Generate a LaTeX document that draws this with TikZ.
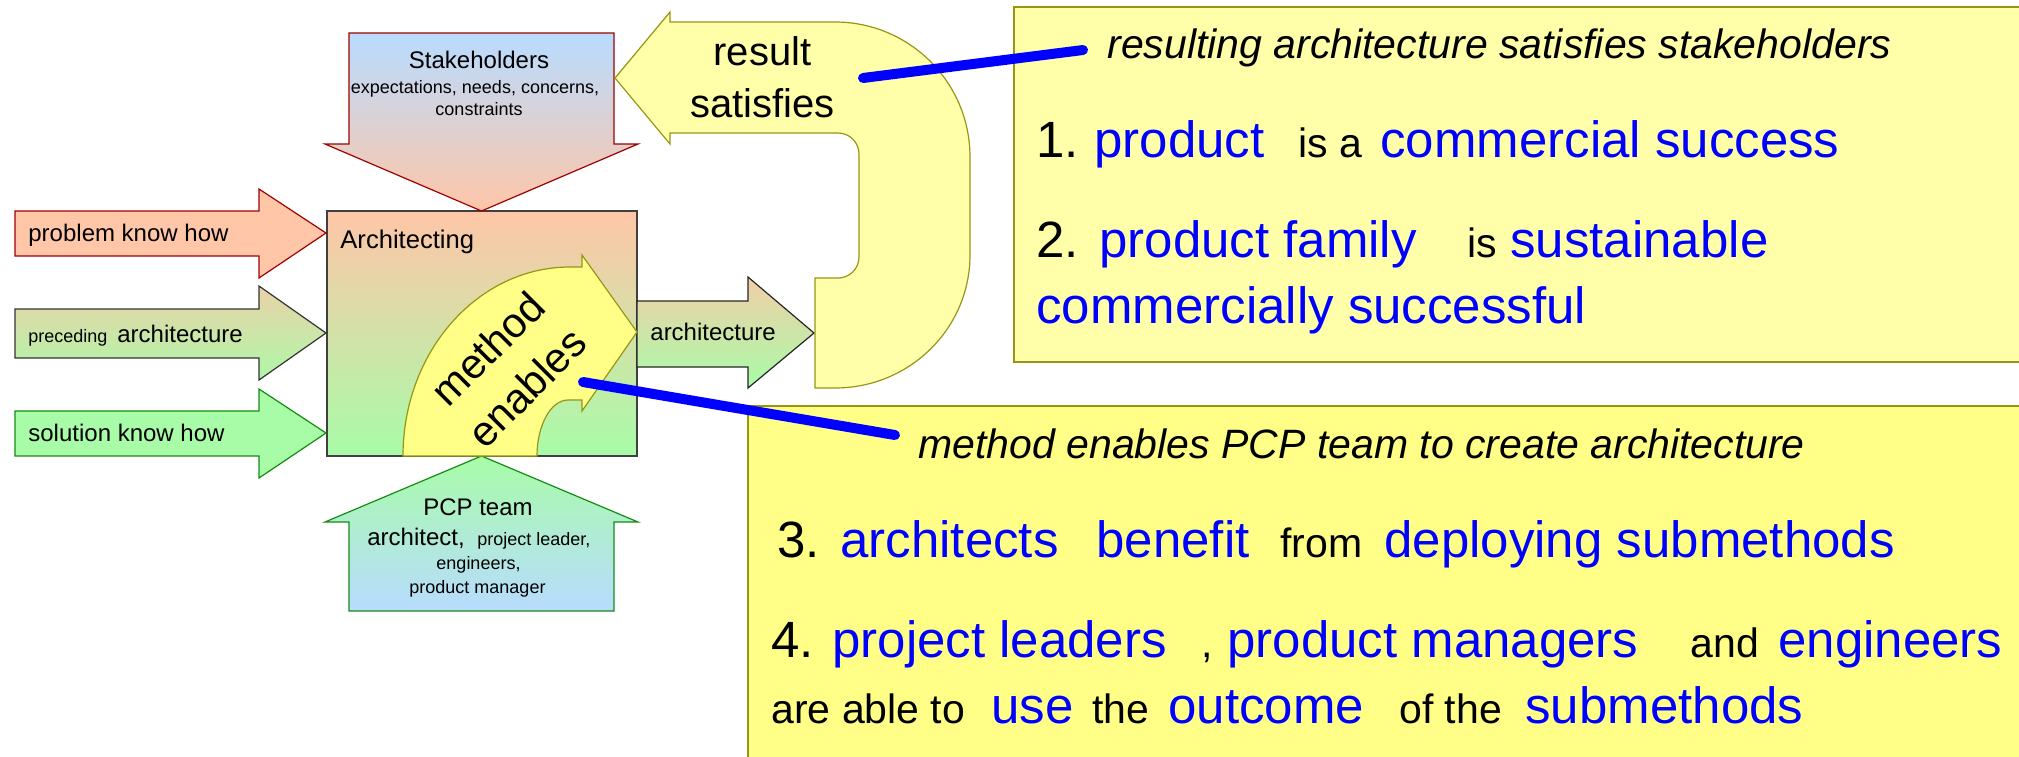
\documentclass[tikz,border=0pt]{standalone}
\usepackage{fontspec}
\setmainfont{Liberation Sans}
\definecolor{salmon}{RGB}{255,198,168}
\definecolor{lgreen}{RGB}{168,252,168}
\definecolor{lblue}{RGB}{184,220,255}
\definecolor{tan}{RGB}{234,210,168}
\definecolor{paley}{RGB}{255,255,170}
\definecolor{bright}{RGB}{255,255,136}
\definecolor{olive}{RGB}{150,150,20}
\definecolor{dred}{RGB}{160,0,0}
\definecolor{dgreen}{RGB}{20,140,20}
\definecolor{pblue}{RGB}{0,0,255}
\tikzset{
  shp/.style={line width=0.6pt, line join=miter},
  txt/.style={inner sep=0pt, anchor=base west},
  ctxt/.style={inner sep=0pt, anchor=base},
  big/.style={txt, font=\fontsize{25.5}{30}\selectfont},
  sm/.style={txt, font=\fontsize{20.5}{24}\selectfont},
  ital/.style={txt, font=\fontsize{20.5}{24}\selectfont\itshape},
  bl/.style={text=pblue},
  lab/.style={font=\fontsize{12}{14}\selectfont},
  tiny/.style={font=\fontsize{9}{11}\selectfont},
  bluelink/.style={draw=pblue, line width=5pt, line cap=round}
}
\begin{document}
\begin{tikzpicture}[x=0.5pt,y=-0.5pt]
\useasboundingbox (0,0) rectangle (2019,756);
% right boxes
\path[shp, draw=olive, fill=paley] (1014,7) rectangle (2030,362);
\path[shp, draw=olive, fill=bright] (748,406) rectangle (2030,770);
% architecting box
\path[shp, draw=black!75, top color=salmon, bottom color=lgreen] (327,211) rectangle (637,456);
% stakeholders arrow (down)
\path[shp, draw=dred, top color=lblue, bottom color=salmon]
  (349,33) -- (614,33) -- (614,144) -- (638,144) -- (481.5,211) -- (325,144) -- (349,144) -- cycle;
% PCP team arrow (up)
\path[shp, draw=dgreen, top color=lgreen, bottom color=lblue]
  (481.5,456) -- (638,522) -- (614,522) -- (614,611) -- (349,611) -- (349,522) -- (325,522) -- cycle;
% left arrows
\path[shp, draw=dred, fill=salmon]
  (15,211) -- (259,211) -- (259,189) -- (326,233) -- (259,278) -- (259,256) -- (15,256) -- cycle;
\path[shp, draw=black!80, top color=tan, bottom color=lgreen!90!tan]
  (15,309) -- (259,309) -- (259,286) -- (326,333) -- (259,380) -- (259,358) -- (15,358) -- cycle;
\path[shp, draw=dgreen, fill=lgreen]
  (15,411) -- (259,411) -- (259,389) -- (326,433) -- (259,478) -- (259,456) -- (15,456) -- cycle;
% architecture output arrow
\path[shp, draw=black!85, top color=salmon!85!lgreen, bottom color=lgreen]
  (637,301) -- (748,301) -- (748,277) -- (814,333) -- (748,388) -- (748,367) -- (637,367) -- cycle;
% result satisfies U-arrow
\path[shp, draw=olive, fill=paley]
  (615,78) -- (670,12) -- (670,22) -- (835,22)
  .. controls (909.6,22) and (970,82.4) .. (970,157)
  -- (970,255)
  .. controls (970,328.5) and (909.6,388) .. (835,388)
  -- (815,388) -- (815,278) -- (838,278)
  .. controls (849.6,278) and (859,268.6) .. (859,257)
  -- (859,154)
  .. controls (859,142.4) and (849.6,133) .. (838,133)
  -- (670,133) -- (670,144) -- cycle;
% method enables curved arrow
\path[shp, draw=olive, fill=bright]
  (403,456) .. controls (403,351.6) and (477.8,267) .. (570,267)
  -- (582,267) -- (582,255) -- (637,332) -- (582,411) -- (582,400) -- (568,400)
  .. controls (550.9,400) and (537,425.1) .. (537,456) -- cycle;
% texts of the left part
\node[txt, lab] (pkh) at (28,241) {problem know how};
\node[txt, tiny] (prec) at (28,342) {preceding};
\node[txt, lab] (parch) at (117,342) {architecture};
\node[txt, lab] (skh) at (28,441) {solution know how};
\node[txt, font=\fontsize{12.8}{15}\selectfont] (archg) at (340,248) {Architecting};
\node[txt, lab] (oarch) at (650,340) {architecture};
\node[ctxt, lab] (stk) at (479,68) {Stakeholders};
\node[ctxt, tiny] (stk2) at (475,93) {expectations, needs, concerns,};
\node[ctxt, tiny] (stk3) at (479,115) {constraints};
\node[ctxt, lab] (pcp) at (478,515) {PCP team};
\node[txt, lab] (pcp2) at (367,545) {architect,};
\node[txt, tiny] (pcp3) at (477,545) {project leader,};
\node[ctxt, tiny] (pcp4) at (478.5,569) {engineers,};
\node[ctxt, tiny] (pcp5) at (477.5,593) {product manager};
\node[ctxt, font=\fontsize{20}{24}\selectfont] (res1) at (762.5,65) {result};
\node[ctxt, font=\fontsize{20}{24}\selectfont] (res2) at (762.5,117) {satisfies};
\node[inner sep=0pt, rotate=45, align=center, font=\fontsize{21}{27.5}\selectfont] (meth) at (507,368) {method\\enables};
% top box texts
\node[ital] (h1) at (1107,58) {resulting architecture satisfies stakeholders};
\node[big] (n1) at (1036,157) {1.};
\node[big,bl] (p1) at (1094,157) {product};
\node[sm] (isa) at (1298,157) {is a};
\node[big,bl] (cs) at (1380,157) {commercial success};
\node[big] (n2) at (1036,257) {2.};
\node[big,bl] (pf) at (1099,257) {product family};
\node[sm] (is2) at (1467,257) {is};
\node[big,bl] (sus) at (1510,257) {sustainable};
\node[big,bl] (cms) at (1036,323) {commercially successful};
% bottom box texts
\node[ital] (h2) at (918,458) {method enables PCP team to create architecture};
\node[big] (n3) at (777,557) {3.};
\node[big,bl] (arc) at (840,557) {architects};
\node[big,bl] (ben) at (1096,557) {benefit};
\node[sm] (from) at (1280,557) {from};
\node[big,bl] (dep) at (1384,557) {deploying submethods};
\node[big] (n4) at (771,657) {4.};
\node[big,bl] (pl) at (832,657) {project leaders};
\node[sm] (comma) at (1201,657) {,};
\node[big,bl] (pm) at (1227,657) {product managers};
\node[sm] (and) at (1690,657) {and};
\node[big,bl] (eng) at (1778,657) {engineers};
\node[sm] (able) at (771,723) {are able to};
\node[big,bl] (use) at (991,723) {use};
\node[sm] (the) at (1092,723) {the};
\node[big,bl] (out) at (1168,723) {outcome};
\node[sm] (ofthe) at (1399,723) {of the};
\node[big,bl] (sub) at (1525,723) {submethods};
% blue links
\coordinate (rsA) at (863,78);
\coordinate (rsB) at (1083,50);
\coordinate (meA) at (583,382);
\coordinate (meB) at (895,435);
\draw[bluelink] (rsA) -- (rsB);
\draw[bluelink] (meA) -- (meB);
\end{tikzpicture}
\end{document}
